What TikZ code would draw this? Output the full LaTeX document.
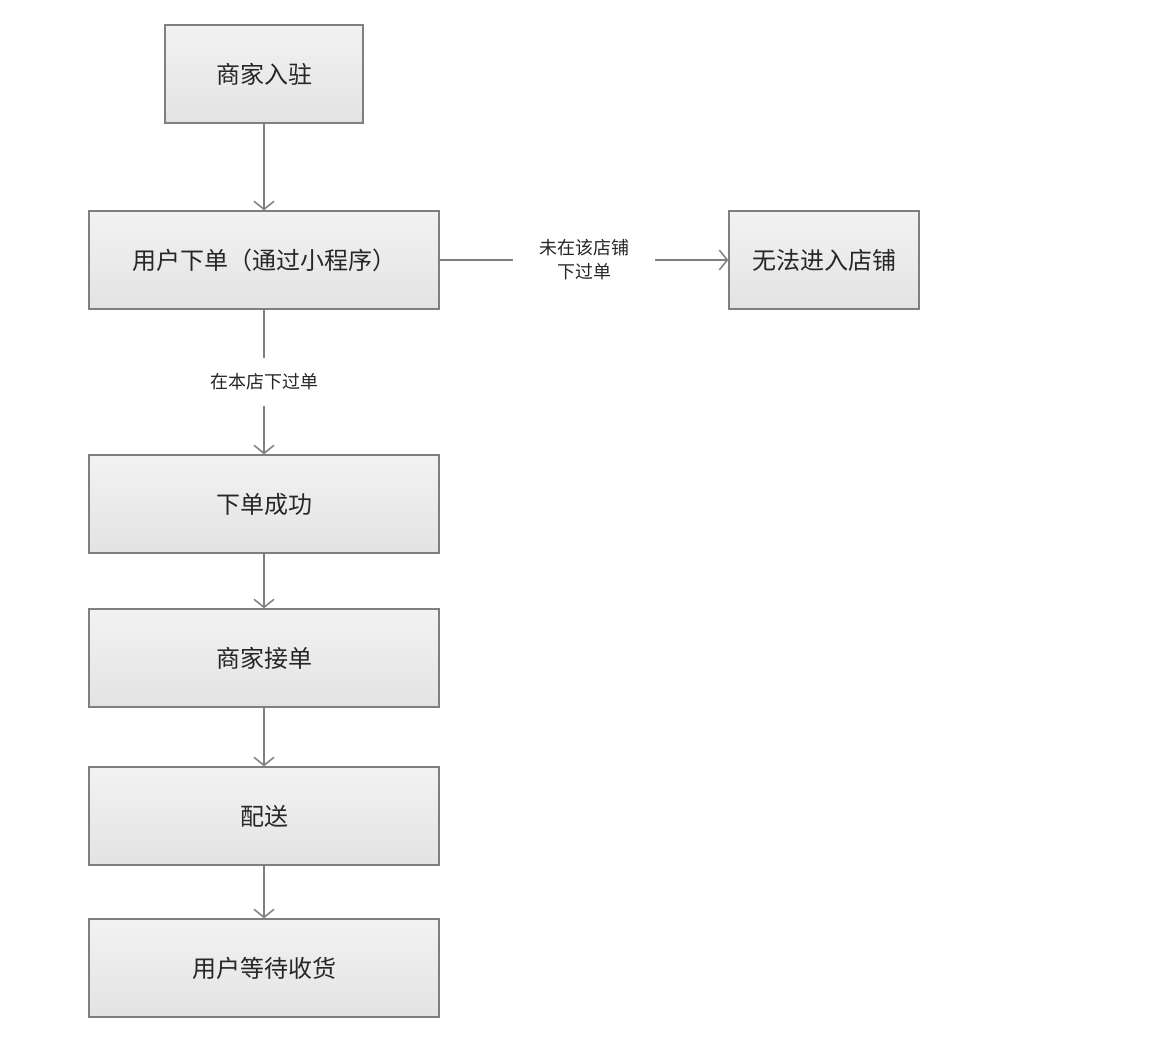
\documentclass[tikz,border=0pt]{standalone}
\usepackage{fontspec}
\newfontfamily\cjk{Noto Sans CJK SC}
\usetikzlibrary{arrows.meta}
\definecolor{edge}{HTML}{7F7F7F}
\tikzset{
  box/.style={draw=edge, line width=1.5pt, top color=black!5, bottom color=black!11,
    minimum height=98pt, inner sep=0pt, font=\cjk\fontsize{24}{28}\selectfont, text=black!85},
  lbl/.style={font=\cjk\fontsize{18}{24}\selectfont, text=black!85, align=center, inner sep=0pt},
  conn/.style={draw=edge, line width=1.5pt},
  arr/.style={conn, -{Straight Barb[length=8pt,width=20pt,line width=1.5pt]}}
}
\begin{document}
\begin{tikzpicture}[x=1pt,y=-1pt]
\useasboundingbox (0,0) rectangle (1150,1044);
\node[box, minimum width=198pt] (a) at (264,74) {商家入驻};
\node[box, minimum width=350pt] (b) at (264,260) {用户下单（通过小程序）};
\node[box, minimum width=190pt] (c) at (824,260) {无法进入店铺};
\node[box, minimum width=350pt] (d) at (264,504) {下单成功};
\node[box, minimum width=350pt] (e) at (264,658) {商家接单};
\node[box, minimum width=350pt] (f) at (264,816) {配送};
\node[box, minimum width=350pt] (g) at (264,968) {用户等待收货};
\node[lbl, minimum height=48pt] (l1) at (264,382) {在本店下过单};
\node[lbl, minimum width=142pt] (l2) at (584,260) {未在该店铺\\下过单};
\draw[arr] (a) -- (b);
\draw[conn] (b) -- (l1);
\draw[arr] (l1) -- (d);
\draw[conn] (b) -- (l2);
\draw[arr] (l2) -- (c);
\draw[arr] (d) -- (e);
\draw[arr] (e) -- (f);
\draw[arr] (f) -- (g);
\end{tikzpicture}
\end{document}
